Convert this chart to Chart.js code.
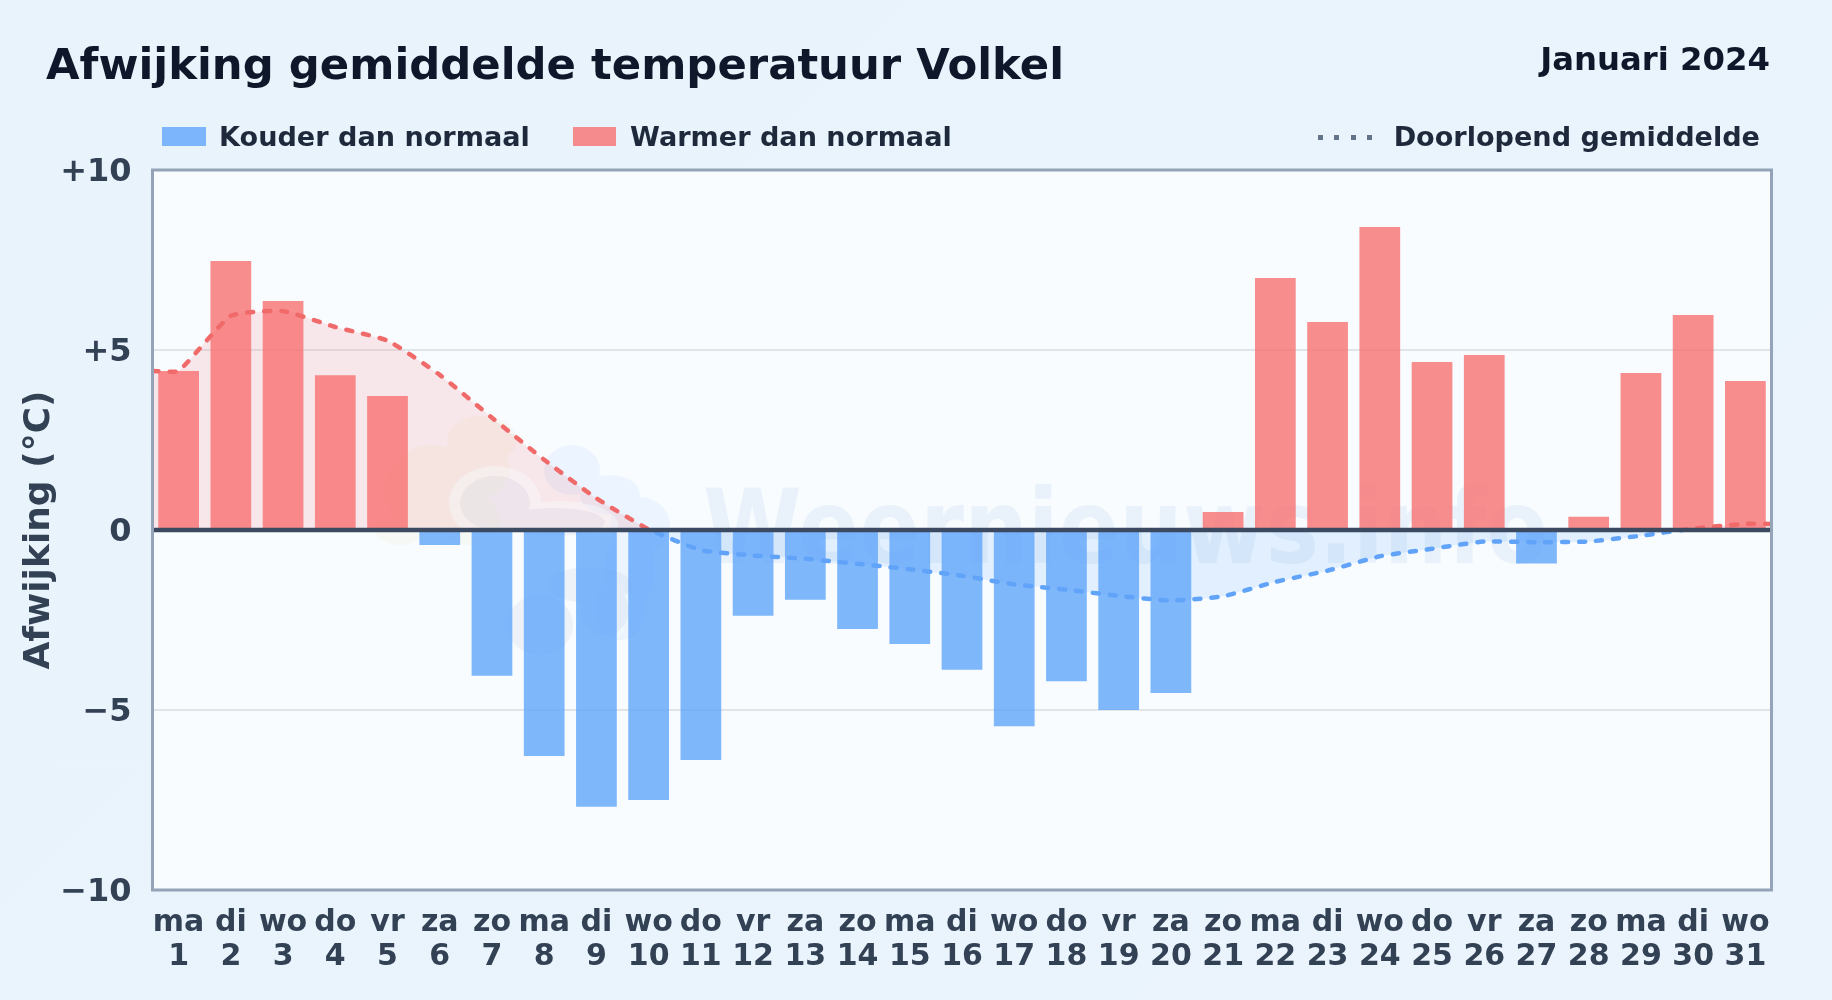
<!DOCTYPE html>
<html lang="nl">
<head>
<meta charset="utf-8">
<title>Afwijking gemiddelde temperatuur Volkel</title>
<script src="https://cdn.jsdelivr.net/npm/chart.js@4"></script>
<style>
html,body{margin:0;padding:0;background:#e9f3fc;width:1832px;height:1000px;overflow:hidden;font-family:"DejaVu Sans",sans-serif;font-weight:700}
#wrap{position:relative;width:1832px;height:1000px;background:linear-gradient(135deg,#e8f3fc,#ebf4fd)}
canvas{position:absolute;left:0;top:0}
.t{position:absolute;white-space:nowrap;line-height:1}
#title{left:46px;top:43px;font-size:43.35px;color:#0f172a}
#date{right:62px;top:43px;font-size:32.3px;color:#0f172a}
.lg{top:123px;font-size:27.1px;color:#1e293b}
.sw{position:absolute;top:127px;height:19px}
.dot{position:absolute;top:135px;width:5px;height:5px;background:#64748b}
</style>
</head>
<body>
<div id="wrap">
<canvas id="c" width="1832" height="1000"></canvas>
<div class="t" id="title">Afwijking gemiddelde temperatuur Volkel</div>
<div class="t" id="date">Januari 2024</div>
<div class="sw" style="left:162px;width:44px;background:rgba(96,165,250,.8)"></div>
<div class="t lg" style="left:219px">Kouder dan normaal</div>
<div class="sw" style="left:573px;width:43px;background:rgba(248,113,113,.8)"></div>
<div class="t lg" style="left:630px">Warmer dan normaal</div>
<div class="dot" style="left:1318px"></div><div class="dot" style="left:1334px"></div><div class="dot" style="left:1351px"></div><div class="dot" style="left:1367px"></div>
<div class="t lg" style="right:72px">Doorlopend gemiddelde</div>
</div>
<script>
const weekdays = ['ma','di','wo','do','vr','za','zo','ma','di','wo','do','vr','za','zo','ma','di','wo','do','vr','za','zo','ma','di','wo','do','vr','za','zo','ma','di','wo'];
const days = [1,2,3,4,5,6,7,8,9,10,11,12,13,14,15,16,17,18,19,20,21,22,23,24,25,26,27,28,29,30,31];
const deviation = [4.42,7.47,6.36,4.30,3.72,-0.42,-4.05,-6.28,-7.69,-7.50,-6.39,-2.38,-1.94,-2.75,-3.17,-3.88,-5.45,-4.20,-5.00,-4.53,0.50,7.00,5.78,8.42,4.67,4.86,-0.93,0.37,4.36,5.97,4.14];
const runningMean = [4.42,5.95,6.08,5.64,5.26,4.31,3.12,1.95,0.88,0.02,-0.56,-0.71,-0.80,-0.94,-1.09,-1.27,-1.51,-1.66,-1.83,-1.96,-1.84,-1.44,-1.13,-0.73,-0.52,-0.32,-0.34,-0.32,-0.16,0.04,0.17];
const lineEdgeDays = [0.5,31.5];
const lineEdgeValues = [4.42,0.17];
const yTicks = [10,5,0,-5,-10];

const BLUE='96,165,250', RED='248,113,113';
const LINE_BLUE='96,163,248', LINE_RED='240,106,106';

function splitGradient(ctx, color1, color2){
  const {chart}=ctx; const a=chart.chartArea; if(!a) return `rgb(${color1})`;
  const zero=chart.scales.y.getPixelForValue(0);
  const f=(zero-a.top)/(a.bottom-a.top);
  const g=chart.ctx.createLinearGradient(0,a.top,0,a.bottom);
  g.addColorStop(0,`rgb(${color1})`);g.addColorStop(f,`rgb(${color1})`);
  g.addColorStop(f,`rgb(${color2})`);g.addColorStop(1,`rgb(${color2})`);
  return g;
}

const backdrop={
  id:'backdrop',
  beforeDraw(chart){
    const {ctx,chartArea:a}=chart;
    ctx.save();ctx.fillStyle='#f8fcff';ctx.fillRect(a.left,a.top,a.width,a.height);ctx.restore();
  },
  beforeDatasetsDraw(chart){
    const {ctx,chartArea:a}=chart;
    ctx.save();
    ctx.beginPath();ctx.rect(a.left,a.top,a.width,a.height);ctx.clip();
    // watermark logo
    const blob=(col,parts)=>{ctx.fillStyle=col;ctx.beginPath();
      parts.forEach(p=>{ctx.moveTo(p[0]+p[2],p[1]);ctx.ellipse(p[0],p[1],p[2],p[3],0,0,7);});ctx.fill();};
    blob('rgba(200,190,60,.06)',[[482,440,35,24],[430,490,45,45],[470,470,40,30],[400,530,25,15],[470,520,30,25]]);
    blob('rgba(96,165,250,.08)',[[572,470,28,25],[610,495,30,20],[640,525,30,28],[630,570,25,40],[620,610,25,30]]);
    blob('rgba(248,252,255,.4)',[[495,503,46,37],[560,525,58,24],[575,610,55,45]]);
    blob('rgba(71,85,135,.06)',[[495,503,35,27],[555,522,50,14],[540,625,33,30],[590,585,42,18],[605,610,24,25]]);
    // watermark text
    ctx.fillStyle='rgba(40,110,190,.07)';
    ctx.font='700 103px "DejaVu Sans"';
    ctx.textBaseline='alphabetic';ctx.textAlign='left';
    ctx.fillText('Weernieuws.info',703,563,845);
    ctx.restore();
  },
  afterDatasetsDraw(chart){
    const {ctx,chartArea:a,scales:{y}}=chart;
    ctx.save();
    ctx.strokeStyle='#3b4a60';ctx.lineWidth=4.5;
    const z=Math.round(y.getPixelForValue(0));
    ctx.beginPath();ctx.moveTo(a.left,z);ctx.lineTo(a.right,z);ctx.stroke();
    ctx.strokeStyle='#94a3b8';ctx.lineWidth=3;
    ctx.strokeRect(a.left,a.top,a.width,a.height);
    ctx.restore();
  }
};

new Chart(document.getElementById('c'),{
  type:'bar',
  data:{datasets:[
    {type:'line',label:'Doorlopend gemiddelde',order:0,
     data:[{x:lineEdgeDays[0],y:lineEdgeValues[0]},...days.map((d,i)=>({x:d,y:runningMean[i]})),{x:lineEdgeDays[1],y:lineEdgeValues[1]}],
     borderColor:ctx=>splitGradient(ctx,LINE_RED,LINE_BLUE),borderWidth:4.5,borderDash:[6,11],borderCapStyle:'round',
     tension:.15,pointRadius:0,
     fill:{target:'origin',above:`rgba(${RED},.15)`,below:`rgba(${BLUE},.15)`}},
    {label:'Afwijking',order:1,
     data:days.map((d,i)=>({x:d,y:deviation[i]})),
     backgroundColor:deviation.map(v=>v<0?`rgba(${BLUE},.8)`:`rgba(${RED},.8)`),
     borderWidth:0,barPercentage:.78,categoryPercentage:1}
  ]},
  plugins:[backdrop],
  options:{
    responsive:false,animation:false,
    layout:{padding:{left:0,right:60.5,top:170,bottom:0}},
    plugins:{legend:{display:false},title:{display:false},tooltip:{enabled:false},
      filler:{drawTime:'beforeDatasetsDraw'}},
    scales:{
      x:{type:'linear',min:.5,max:31.5,offset:false,
         afterBuildTicks(s){s.ticks=days.map(d=>({value:d}));},
         afterFit(s){s.height=110;},
         grid:{display:false},border:{display:false},
         ticks:{autoSkip:false,maxRotation:0,minRotation:0,padding:8,color:'#334155',
           font:{family:'"DejaVu Sans"',size:30,weight:'700',lineHeight:1.13},
           callback:v=>[weekdays[v-1],String(v)]}},
      y:{min:-10,max:10,
         afterBuildTicks(s){s.ticks=yTicks.map(v=>({value:v}));},
         afterFit(s){s.width=152.5;},
         grid:{color:ctx=>ctx.tick.value===0?'transparent':'#e0e5ea',lineWidth:2,drawTicks:false},
         border:{display:false},
         ticks:{padding:21,color:'#334155',labelOffset:3,font:{family:'"DejaVu Sans"',size:32,weight:'700'},
           callback:v=>v>0?'+'+v:v<0?'\u2212'+Math.abs(v):'0'},
         title:{display:true,text:'Afwijking (°C)',color:'#334155',padding:{top:18,bottom:0},
           font:{family:'"DejaVu Sans"',size:36,weight:'700'}}}
    }
  }
});
</script>
</body>
</html>
